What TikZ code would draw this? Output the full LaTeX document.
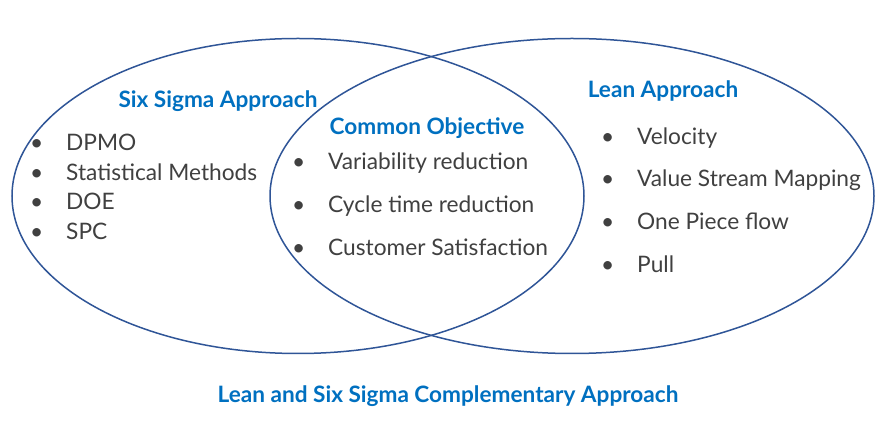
\documentclass[tikz,border=0pt]{standalone}
\usepackage{fontspec}
\setmainfont{Lato}
\usepackage{tikz}

\definecolor{titelblau}{HTML}{0070C0}
\definecolor{randblau}{HTML}{2F5597}
\definecolor{textgrau}{HTML}{404040}

\tikzset{
  kreis/.style={draw=randblau, line width=1.5pt},
  titel/.style={text=titelblau, inner sep=0pt, anchor=base,
    font=\fontsize{22.6}{26}\selectfont\bfseries},
  punkt/.style={text=textgrau, inner sep=0pt, anchor=base west,
    font=\fontsize{22.7}{26}\selectfont}
}
\newcommand{\pkt}[1]{\llap{\textbullet\hspace{23pt}}#1}

\begin{document}
\begin{tikzpicture}[x=1pt,y=-1pt]
  \useasboundingbox (0,0) rectangle (895,427);

  % Kreise
  \draw[kreis] (298,196) ellipse [x radius=286, y radius=157.5];
  \draw[kreis] (572,196) ellipse [x radius=302, y radius=157.5];

  % Ueberschriften
  \node[titel] (sixsigma) at (218,108) {Six Sigma Approach};
  \node[titel] (gemeinsam) at (427,135) {Common Objective};
  \node[titel] (lean) at (663,98) {Lean Approach};
  \node[titel] (gesamt) at (448,403) {Lean and Six Sigma Complementary Approach};

  % Six Sigma
  \node[punkt] (dpmo) at (66,151) {\pkt{DPMO}};
  \node[punkt] (stat) at (66,181) {\pkt{Statistical Methods}};
  \node[punkt] (doe) at (66,210) {\pkt{DOE}};
  \node[punkt] (spc) at (66,240) {\pkt{SPC}};

  % gemeinsam
  \node[punkt] (var) at (328,170) {\pkt{Variability reduction}};
  \node[punkt] (zyklus) at (328,213) {\pkt{Cycle time reduction}};
  \node[punkt] (kunde) at (328,256) {\pkt{Customer Satisfaction}};

  % Lean
  \node[punkt] (velo) at (637,145) {\pkt{Velocity}};
  \node[punkt] (vsm) at (637,187) {\pkt{Value Stream Mapping}};
  \node[punkt] (fluss) at (637,230) {\pkt{One Piece flow}};
  \node[punkt] (pull) at (637,273) {\pkt{Pull}};

\end{tikzpicture}
\end{document}
